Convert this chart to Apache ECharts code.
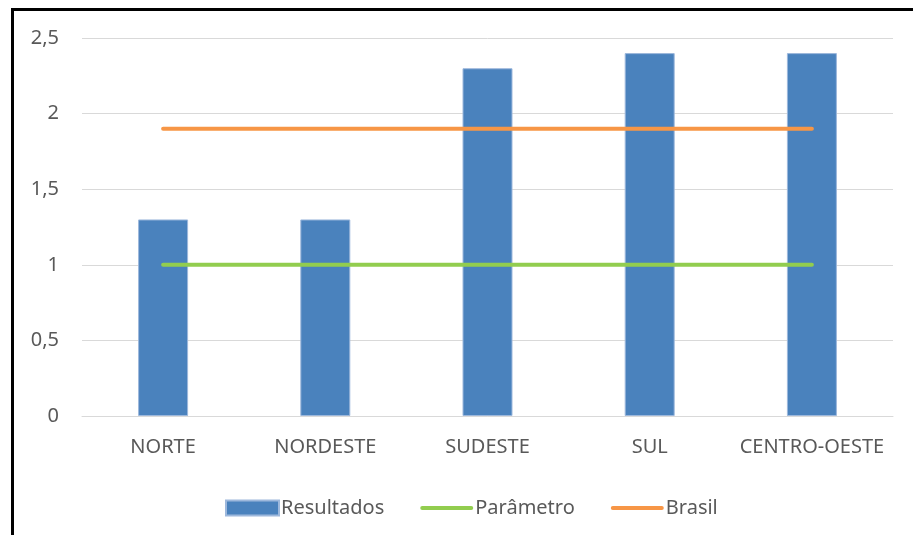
<!DOCTYPE html>
<html lang="pt">
<head>
  <meta charset="UTF-8">
  <title>Resultados por região</title>
  <script src="https://cdn.jsdelivr.net/npm/echarts@6/dist/echarts.min.js"></script>
  <style>
    html,body{margin:0;padding:0;background:#fff;overflow:hidden;}
    /* moldura preta (só topo e esquerda aparecem no recorte) */
    #frame{position:absolute;left:11px;top:8px;width:1000px;height:1000px;border:3px solid #000;}
    #main{position:absolute;left:0;top:0;width:913px;height:535px;}
  </style>
</head>
<body>
  <div id="frame"></div>
  <div id="main"></div>
  <script>
    // dados
    var regioes = ['NORTE', 'NORDESTE', 'SUDESTE', 'SUL', 'CENTRO-OESTE'];
    var resultados = [1.3, 1.3, 2.3, 2.4, 2.4];
    var parametro = [1, 1, 1, 1, 1];
    var brasil = [1.9, 1.9, 1.9, 1.9, 1.9];
    var yTicks = [0, 0.5, 1, 1.5, 2, 2.5];

    var fonte = "'Noto Sans', 'DejaVu Sans', sans-serif";
    var iconeLinha = 'path://M2,0 H51 A2,2 0 0 1 51,4 H2 A2,2 0 0 1 2,0 Z';
    var myChart = echarts.init(document.getElementById('main'));
    var option = {
      backgroundColor: 'transparent',
      animation: false,
      grid: {left: 82, right: 20, top: 38, bottom: 119},
      legend: {
        left: 220,
        top: 493,
        itemWidth: 53,
        itemHeight: 15,
        itemGap: 36,
        textStyle: {color: '#595959', fontSize: 20, fontFamily: fonte, padding: [0, 0, 0, -3]},
        data: [
          {name: 'Resultados', icon: 'rect'},
          {name: 'Parâmetro', icon: iconeLinha},
          {name: 'Brasil', icon: iconeLinha}
        ]
      },
      xAxis: {
        type: 'category',
        data: regioes,
        axisLine: {lineStyle: {color: '#d9d9d9', width: 1}},
        axisTick: {show: false},
        axisLabel: {color: '#595959', fontSize: 20, fontFamily: fonte, margin: 21, interval: 0}
      },
      yAxis: {
        type: 'value',
        min: yTicks[0],
        max: yTicks[yTicks.length - 1],
        interval: 0.5,
        axisLine: {show: false},
        axisTick: {show: false},
        splitLine: {lineStyle: {color: '#d9d9d9', width: 1}},
        axisLabel: {
          color: '#595959', fontSize: 20, fontFamily: fonte, margin: 23,
          formatter: function (v) { return String(v).replace('.', ','); }
        }
      },
      series: [{
        name: 'Resultados',
        type: 'bar',
        data: resultados,
        barWidth: 50,
        itemStyle: {color: '#4A82BD', borderColor: '#9DB8DC', borderWidth: 1}
      }, {
        name: 'Parâmetro',
        type: 'line',
        data: parametro,
        symbol: 'none',
        itemStyle: {color: '#92CD4F'},
        lineStyle: {color: '#92CD4F', width: 4, cap: 'round'}
      }, {
        name: 'Brasil',
        type: 'line',
        data: brasil,
        symbol: 'none',
        itemStyle: {color: '#F79646'},
        lineStyle: {color: '#F79646', width: 4, cap: 'round'}
      }]
    };
    myChart.setOption(option);
  </script>
</body>
</html>
